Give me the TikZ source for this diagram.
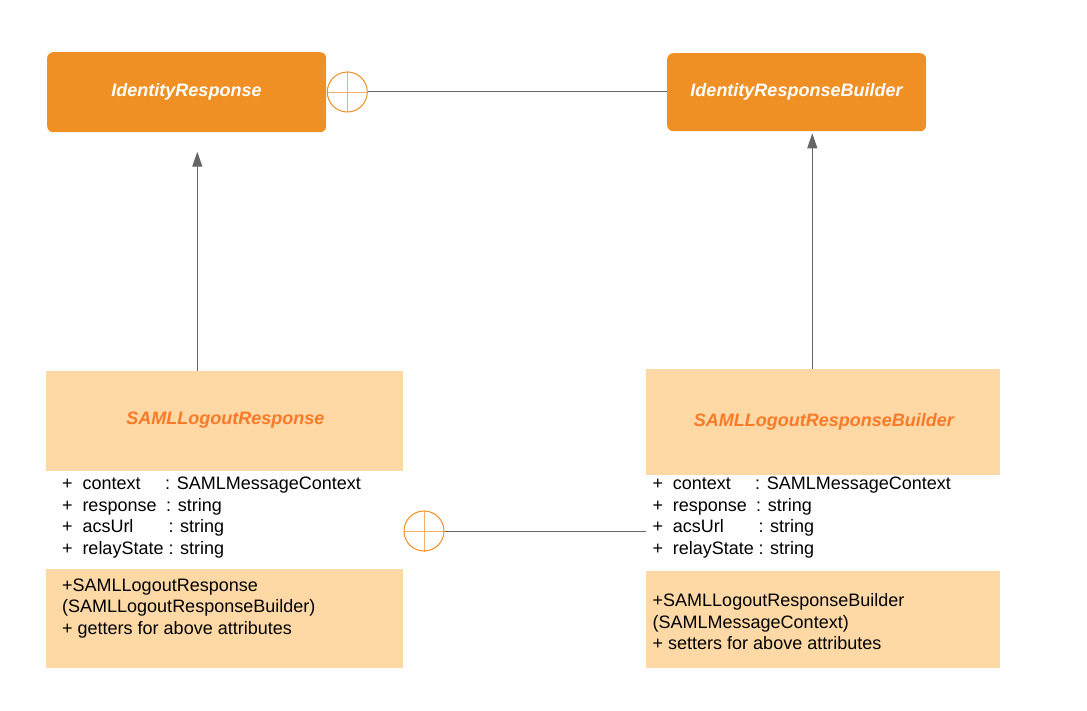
\documentclass[tikz,border=0pt]{standalone}
\usepackage{fontspec}
\setmainfont{Liberation Sans}
\usetikzlibrary{arrows.meta}
\definecolor{dorange}{HTML}{F08F23}
\definecolor{lorange}{HTML}{FED8A5}
\definecolor{torange}{HTML}{F97A28}
\definecolor{lgray}{HTML}{666666}
\begin{document}
\begin{tikzpicture}[x=1pt,y=-1pt,
  topbox/.style={fill=dorange, rounded corners=6pt, inner sep=0pt, anchor=north west},
  part/.style={inner sep=0pt, anchor=north west, draw=none},
  head/.style={part, fill=lorange},
  attrbox/.style={part, fill=white},
  toptitle/.style={text=white, font=\fontsize{18}{21.5}\selectfont\bfseries\itshape, inner sep=0pt, anchor=base},
  ctitle/.style={text=torange, font=\fontsize{18}{21.5}\selectfont\bfseries\itshape, inner sep=0pt, anchor=base},
  txt/.style={font=\fontsize{18}{21.5}\selectfont, inner sep=0pt, anchor=base west, text=black},
  conn/.style={draw=lgray, line width=1pt},
  arr/.style={conn, -{Triangle[length=15pt,width=10pt]}},
  nest/.style={circle, draw=dorange, line width=1pt, minimum size=40pt, inner sep=0pt}
]
\useasboundingbox (0,0) rectangle (1087,711);
% top boxes
\node[topbox, minimum width=279pt, minimum height=80pt] (ir) at (47,52) {};
\node[toptitle] (irt) at (186.5,96.5) {IdentityResponse};
\node[topbox, minimum width=259pt, minimum height=78pt] (irb) at (667,53) {};
\node[toptitle] (irbt) at (796.5,96.5) {IdentityResponseBuilder};

% left class
\node[head, minimum width=357pt, minimum height=100pt] (lh) at (46,371) {};
\node[attrbox, minimum width=357pt, minimum height=98pt] (la) at (46,471) {};
\node[head, minimum width=357pt, minimum height=99pt] (lm) at (46,569) {};
\node[ctitle] (lt) at (225.3,424.5) {SAMLLogoutResponse};

% right class
\node[head, minimum width=354pt, minimum height=106pt] (rh) at (646,369) {};
\node[attrbox, minimum width=354pt, minimum height=96pt] (ra) at (646,475) {};
\node[head, minimum width=354pt, minimum height=97pt] (rm) at (646,571) {};
\node[ctitle] (rt) at (823.8,426) {SAMLLogoutResponseBuilder};

% left attributes
\node[txt] (lp1) at (62,489.5) {+};
\node[txt] (ln1) at (82.3,489.5) {context};
\node[txt] (lc1) at (165,489.5) {: SAMLMessageContext};
\node[txt] (lp2) at (62,511) {+};
\node[txt] (ln2) at (82.3,511) {response};
\node[txt] (lc2) at (166,511) {: string};
\node[txt] (lp3) at (62,532.5) {+};
\node[txt] (ln3) at (82.3,532.5) {acsUrl};
\node[txt] (lc3) at (168.3,532.5) {: string};
\node[txt] (lp4) at (62,554) {+};
\node[txt] (ln4) at (82.3,554) {relayState};
\node[txt] (lc4) at (168.3,554) {: string};
% left methods
\node[txt] (lm1) at (62,591) {+SAMLLogoutResponse};
\node[txt] (lm2) at (62,612.5) {(SAMLLogoutResponseBuilder)};
\node[txt] (lm3) at (62,634) {+ getters for above attributes};

% right attributes
\node[txt] (rp1) at (652.5,489.5) {+};
\node[txt] (rn1) at (672.7,489.5) {context};
\node[txt] (rc1) at (755,489.5) {: SAMLMessageContext};
\node[txt] (rp2) at (652.5,511) {+};
\node[txt] (rn2) at (672.7,511) {response};
\node[txt] (rc2) at (756,511) {: string};
\node[txt] (rp3) at (652.5,532.5) {+};
\node[txt] (rn3) at (672.7,532.5) {acsUrl};
\node[txt] (rc3) at (758.3,532.5) {: string};
\node[txt] (rp4) at (652.5,554) {+};
\node[txt] (rn4) at (672.7,554) {relayState};
\node[txt] (rc4) at (758.3,554) {: string};
% right methods
\node[txt] (rm1) at (652.5,606.5) {+SAMLLogoutResponseBuilder};
\node[txt] (rm2) at (652.5,628) {(SAMLMessageContext)};
\node[txt] (rm3) at (652.5,649.5) {+ setters for above attributes};

% nesting circles
\node[nest] (c1) at (347.3,92) {};
\draw[dorange, line width=0.7pt, opacity=0.7] (c1.west) -- (c1.east) (c1.north) -- (c1.south);
\node[nest] (c2) at (424,531) {};
\draw[dorange, line width=0.7pt, opacity=0.7] (c2.west) -- (c2.east) (c2.north) -- (c2.south);
\draw[conn] (c1.east) -- (irb.west |- c1.east);
\draw[conn] (c2.east) -- (ra.west |- c2.east);

% inheritance arrows
\coordinate (a1s) at (197.3,371);
\coordinate (a1e) at (197.3,151.7);
\coordinate (a2s) at (812.3,369);
\coordinate (a2e) at (812.3,133.3);
\draw[arr] (a1s) -- (a1e);
\draw[arr] (a2s) -- (a2e);
\end{tikzpicture}
\end{document}
